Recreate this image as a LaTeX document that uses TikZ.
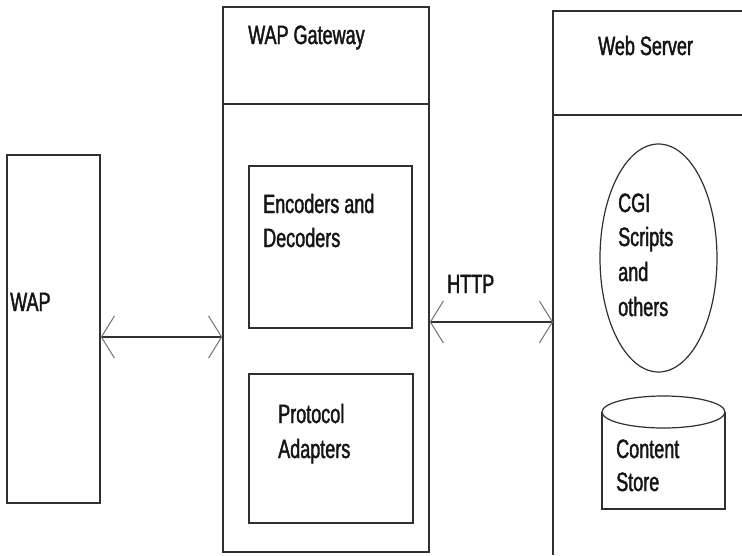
\documentclass[tikz,border=0pt]{standalone}
\usepackage{fontspec}
\setmainfont{Liberation Sans}[FakeStretch=0.68,FakeBold=1.6]
\usetikzlibrary{arrows.meta,shapes.geometric}
\definecolor{linec}{HTML}{303030}
\definecolor{textc}{HTML}{151515}
\tikzset{
  boxshape/.style={draw=linec,line width=1.6pt,rectangle,inner sep=0pt},
  lbl/.style={anchor=base west,inner sep=0pt,text=textc,font=\fontsize{26.5}{30}\selectfont},
  arr/.style={draw=linec,line width=1.6pt,
    {Straight Barb[length=13pt,width=42pt,line width=1pt,color=black!55]}-{Straight Barb[length=13pt,width=42pt,line width=1pt,color=black!55]}}
}
\begin{document}
\begin{tikzpicture}[x=1pt,y=-1pt]
\useasboundingbox[fill=white] (0,0) rectangle (742,555);
% WAP
\node[boxshape,minimum width=93pt,minimum height=348pt] (wap) at (53.5,329) {};
\node[lbl] (wapt) at (10,311) {WAP};
% Gateway
\node[boxshape,minimum width=206pt,minimum height=545pt] (gw) at (326,279.5) {};
\draw[draw=linec,line width=1.6pt] (gw.west |- 0,104) -- (gw.east |- 0,104);
\node[lbl] (gwt) at (248,44) {WAP Gateway};
\node[boxshape,minimum width=163pt,minimum height=162pt] (enc) at (330.5,247) {};
\node[lbl] (enc1) at (263,213) {Encoders and};
\node[lbl] (enc2) at (263,247) {Decoders};
\node[boxshape,minimum width=164pt,minimum height=149pt] (proto) at (331,448.5) {};
\node[lbl] (pro1) at (278,423) {Protocol};
\node[lbl] (pro2) at (278,458) {Adapters};
% Web server
\coordinate (wsl) at (553,555);
\coordinate (wstl) at (553,11);
\coordinate (wstr) at (742,11);
\draw[draw=linec,line width=1.6pt] (wsl) -- (wstl) -- (wstr);
\draw[draw=linec,line width=1.6pt] (553,115) -- (742,115);
\node[lbl] (wst) at (598,55) {Web Server};
\node[draw=linec,line width=1.2pt,ellipse,minimum width=117pt,minimum height=228pt,inner sep=0pt] (cgi) at (658.5,258) {};
\node[lbl] (cgi1) at (618,212) {CGI};
\node[lbl] (cgi2) at (618,246) {Scripts};
\node[lbl] (cgi3) at (618,281) {and};
\node[lbl] (cgi4) at (618,316) {others};
% Content store cylinder
\draw[draw=linec,line width=1.4pt] (602,412) -- (602,509) -- (725,509) -- (725,412);
\draw[draw=linec,line width=1.2pt,fill=white] (663.5,412) ellipse [x radius=61.5pt,y radius=16pt];
\node[lbl] (cs1) at (616,458) {Content};
\node[lbl] (cs2) at (616,491) {Store};
% connectors
\draw[arr] (wap.east |- 0,337) -- (gw.west |- 0,337);
\draw[arr] (gw.east |- 0,322) -- (wsl |- 0,322);
\node[lbl] (http) at (447,293) {HTTP};
\end{tikzpicture}
\end{document}
